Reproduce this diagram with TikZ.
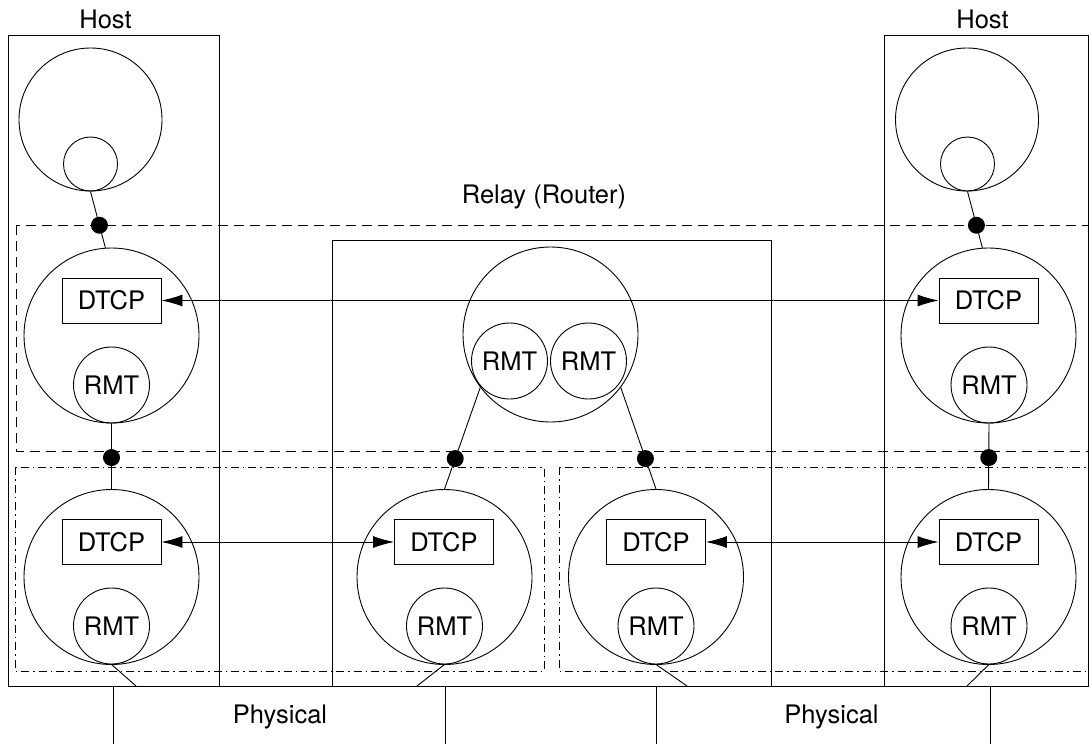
\documentclass[tikz,border=0pt]{standalone}
\usepackage{fontspec}
\setmainfont{TeX Gyre Heros}
\usetikzlibrary{arrows.meta}
\begin{document}
\begin{tikzpicture}[x=1pt,y=-1pt, line width=0.9pt,
  every node/.style={font=\fontsize{25.5}{29}\selectfont},
  ring/.style={draw,circle,inner sep=0pt},
  big/.style={ring,minimum size=175pt},
  rmt/.style={ring,minimum size=76pt},
  app/.style={ring,minimum size=143pt},
  subapp/.style={ring,minimum size=54pt},
  dtcpbox/.style={draw,rectangle,minimum width=99pt,minimum height=45pt,inner sep=0pt},
  dot/.style={circle,fill,inner sep=0pt,minimum size=17pt},
  lbl/.style={anchor=base},
  frame/.style={draw,line width=0.9pt},
  dashframe/.style={draw,line width=0.9pt,dash pattern=on 10pt off 6pt},
  dotdashframe/.style={draw,line width=0.9pt,dash pattern=on 8pt off 4pt on 1.5pt off 4pt},
  bi/.style={draw,{Latex[length=21pt,width=12pt]}-{Latex[length=21pt,width=12pt]}}
]
\useasboundingbox (0,0) rectangle (1089,744);

% frames
\draw[frame] (8,35) rectangle (219,686);
\draw[frame] (884,35) rectangle (1088,686);
\draw[frame] (332,240) rectangle (771,686);
\draw[dashframe] (16,225) rectangle (1088,451);
\draw[dotdashframe] (15,467) rectangle (544,671);
\draw[dotdashframe] (559,467) rectangle (1088,671);

% labels
\node[lbl] (hostL) at (105.5,28) {Host};
\node[lbl] (hostR) at (982.5,28) {Host};
\node[lbl] (relayLbl) at (544,203) {Relay (Router)};
\node[lbl] (phyLlbl) at (280,723) {Physical};
\node[lbl] (phyRlbl) at (831.5,723) {Physical};

% left host
\node[app] (topL) at (90.5,119.5) {};
\node[subapp] (subL) at (90.5,164) {};
\node[big] (upL) at (111.5,335.5) {};
\node[dtcpbox] (dUL) at (111.5,300.5) {DTCP};
\node[rmt] (rUL) at (111.5,385) {RMT};
\node[big] (loL) at (111.5,577) {};
\node[dtcpbox] (dLL) at (111.5,542) {DTCP};
\node[rmt] (rLL) at (111.5,626) {RMT};

% relay
\node[big] (relay) at (550.5,334.5) {};
\node[rmt] (rRa) at (509.5,361) {RMT};
\node[rmt] (rRb) at (588.5,361) {RMT};
\node[big] (loML) at (444.5,577) {};
\node[dtcpbox] (dML) at (444,542) {DTCP};
\node[rmt] (rML) at (444.5,626) {RMT};
\node[big] (loMR) at (656,577) {};
\node[dtcpbox] (dMR) at (656,542) {DTCP};
\node[rmt] (rMR) at (656,626) {RMT};

% right host
\node[app] (topR) at (967,119.5) {};
\node[subapp] (subR) at (967.5,164) {};
\node[big] (upR) at (988.5,335.5) {};
\node[dtcpbox] (dUR) at (988.5,300.5) {DTCP};
\node[rmt] (rUR) at (989,385) {RMT};
\node[big] (loR) at (988.5,577) {};
\node[dtcpbox] (dLR) at (988.5,542) {DTCP};
\node[rmt] (rLR) at (989,626) {RMT};

% vertical links with dots
\draw (subL.south) -- node[dot,pos=0.6] (jL1) {} (upL.94);
\draw (rUL.south) -- node[dot,pos=0.52] (jL2) {} (loL.north);
\draw (relay.217) -- node[dot,pos=0.7] (jM1) {} (loML.north);
\draw (relay.323) -- node[dot,pos=0.7] (jM2) {} (loMR.north);
\draw (subR.south) -- node[dot,pos=0.6] (jR1) {} (upR.94);
\draw (rUR.south) -- node[dot,pos=0.52] (jR2) {} (loR.north);

% DTCP arrows
\draw[bi] (dUL.east) -- (dUR.west);
\draw[bi] (dLL.east) -- (dML.west);
\draw[bi] (dMR.east) -- (dLR.west);

% physical media
\coordinate (pLa) at (113,744);
\coordinate (pLb) at (113,686);
\coordinate (pLc) at (445,686);
\coordinate (pLd) at (445,744);
\coordinate (pRa) at (656,744);
\coordinate (pRb) at (656,686);
\coordinate (pRc) at (990,686);
\coordinate (pRd) at (990,744);
\draw (pLa) -- (pLb) -- (pLc) -- (pLd);
\draw (pRa) -- (pRb) -- (pRc) -- (pRd);

\coordinate (tLL) at (136,686);
\coordinate (tML) at (417,686);
\coordinate (tMR) at (687,686);
\coordinate (tLR) at (967,686);
\draw (rLL.south) -- (tLL);
\draw (rML.south) -- (tML);
\draw (rMR.south) -- (tMR);
\draw (rLR.south) -- (tLR);
\end{tikzpicture}
\end{document}
